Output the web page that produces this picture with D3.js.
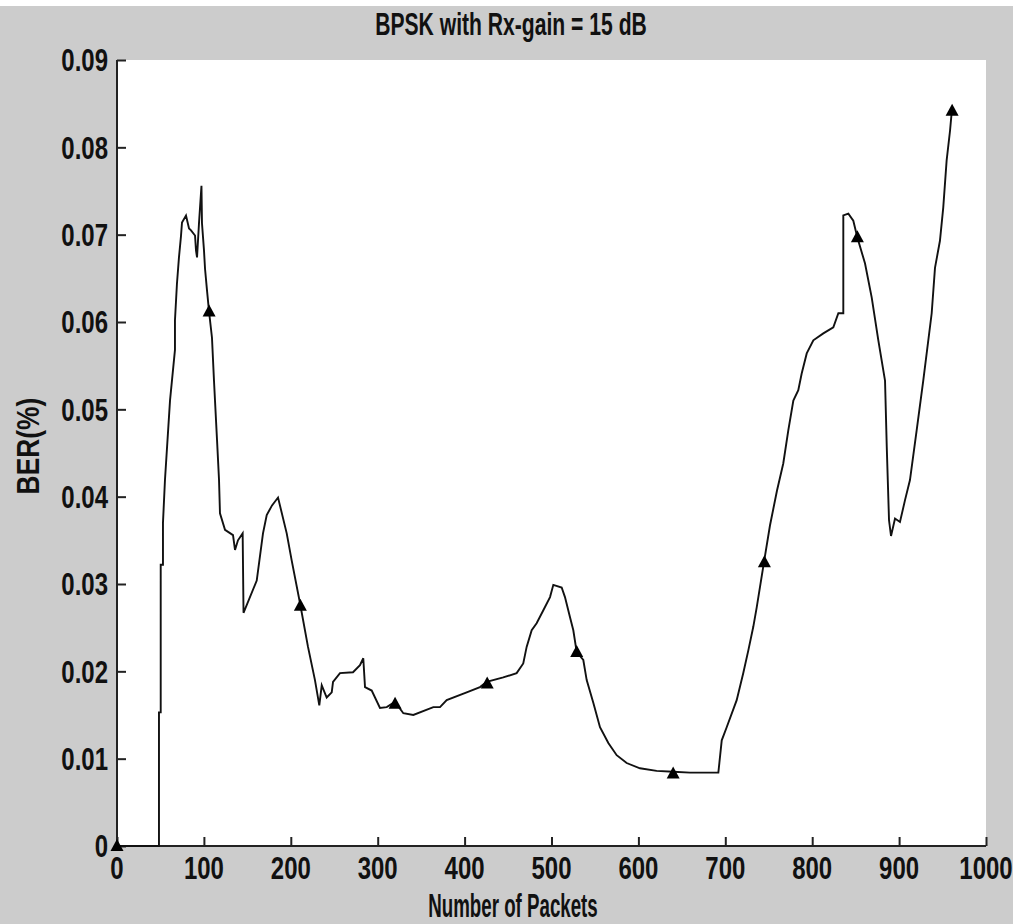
<!DOCTYPE html>
<html>
<head>
<meta charset="utf-8">
<script src="https://cdn.jsdelivr.net/npm/d3@7"></script>
<style>
  body { margin: 0; background: #fff; }
  svg { display: block; }
  text { font-family: "Liberation Sans", Arial, sans-serif; font-weight: bold; fill: #111; }
</style>
</head>
<body>
<svg id="chart"></svg>
<script>
// BPSK BER trace
let packets = [0, 48.3, 48.3, 50.3, 50.3, 52.9, 52.9, 55.2, 61, 66.7, 66.7, 69, 71.3, 73.6, 74.8, 79.4, 82.9, 85.2, 89.8, 90.9,
  92.1, 94.4, 97.2, 97.8, 100.1, 101.3, 103.6, 105.9, 109.3, 111.6, 115.1, 117.4, 118.5, 124.3, 133.5, 135.8, 139.2, 144.6, 145.6, 160.8,
  168, 172.3, 178.4, 185.3, 195.3, 201, 210.6, 219.8, 227.8, 232.8, 235.6, 241.3, 247.1, 248.6, 256.6, 271.6, 279.6, 283.4, 285.4, 293.1,
  302.6, 310.4, 319.9, 329.5, 341, 364, 371.7, 379.4, 402.4, 417.7, 425.4, 444.5, 459.9, 467.5, 471.4, 477.2, 482.9, 490.6, 498.3, 502.1,
  511.7, 515.5, 521.3, 525.1, 529, 536.6, 540.5, 548.1, 555.8, 565.4, 575, 586.5, 601.8, 621, 640.2, 659.4, 692, 695.9, 701.6, 713.1,
  720.7, 726.5, 732.2, 736.1, 744.5, 751.4, 759.5, 766.7, 772.5, 778.3, 784, 787.9, 793.7, 801.3, 812.8, 824.3, 830.1, 835.8, 835.8, 841.6,
  847.3, 851.9, 860.8, 868.5, 876.1, 883.8, 885.8, 888.4, 890.7, 895.3, 901, 906.8, 912.5, 920.2, 927.8, 937.5, 941.3, 947, 950.8, 954.7,
  958.6, 960.5]
let ber = [0, 0, 0.0153, 0.0153, 0.0322, 0.0322, 0.0370, 0.0419, 0.0510, 0.0568, 0.0602, 0.0644, 0.0674, 0.0698, 0.0714, 0.0722, 0.0707, 0.0705, 0.0699, 0.0682,
  0.0674, 0.0714, 0.0756, 0.0713, 0.0682, 0.0661, 0.0636, 0.0612, 0.0582, 0.0533, 0.0465, 0.0419, 0.0381, 0.0362, 0.0356, 0.0339, 0.0350, 0.0358, 0.0267, 0.0304,
  0.0358, 0.0379, 0.0390, 0.0399, 0.0358, 0.0327, 0.0278, 0.0228, 0.0190, 0.0161, 0.0184, 0.0170, 0.0176, 0.0188, 0.0198, 0.0199, 0.0207, 0.0215, 0.0182, 0.0178,
  0.0158, 0.0159, 0.0165, 0.0152, 0.0150, 0.0159, 0.0159, 0.0167, 0.0176, 0.0182, 0.0188, 0.0193, 0.0198, 0.0209, 0.0228, 0.0247, 0.0255, 0.0270, 0.0285, 0.0299,
  0.0296, 0.0285, 0.0262, 0.0247, 0.0222, 0.0213, 0.0190, 0.0164, 0.0136, 0.0118, 0.0104, 0.0095, 0.0089, 0.0086, 0.0085, 0.0084, 0.0084, 0.0121, 0.0136, 0.0167,
  0.0198, 0.0224, 0.0251, 0.0273, 0.0325, 0.0367, 0.0407, 0.0438, 0.0476, 0.0510, 0.0522, 0.0541, 0.0564, 0.0579, 0.0587, 0.0594, 0.0610, 0.0610, 0.0722, 0.0724,
  0.0716, 0.0697, 0.0667, 0.0628, 0.0579, 0.0533, 0.0457, 0.0373, 0.0355, 0.0375, 0.0371, 0.0396, 0.0419, 0.0476, 0.0533, 0.0610, 0.0662, 0.0693, 0.0731, 0.0785,
  0.0819, 0.0840]

// triangle markers
let markerPackets = [0, 106, 211, 320, 426, 529, 640, 745, 852, 961]
let markerBer = [0, 0.0612, 0.0275, 0.0163, 0.0186, 0.0222, 0.0083, 0.0325, 0.0697, 0.0842]

let xTicks = [0, 100, 200, 300, 400, 500, 600, 700, 800, 900, 1000]
let yTicks = [0, 0.01, 0.02, 0.03, 0.04, 0.05, 0.06, 0.07, 0.08, 0.09]

let titleText = "BPSK with Rx-gain = 15 dB"
let xLabel = "Number of Packets"
let yLabel = "BER(%)"

let W = 1013, H = 924
let svg = d3.select('#chart')
    .attr('width', W)
    .attr('height', H)

// figure background (white strip on top, then matlab grey)
svg.append('rect').attr('x', 0).attr('y', 0).attr('width', W).attr('height', H).attr('fill', '#fff')
svg.append('rect').attr('x', 0).attr('y', 6).attr('width', W).attr('height', H - 6).attr('fill', '#cccccc')

let plotL = 117, plotR = 986, plotT = 60, plotB = 846

let x = d3.scaleLinear().domain([0, 1000]).range([plotL, plotR])
let y = d3.scaleLinear().domain([0, 0.09]).range([plotB, plotT])

svg.append('rect')
    .attr('x', plotL).attr('y', plotT)
    .attr('width', plotR - plotL).attr('height', plotB - plotT)
    .attr('fill', '#fff')

// stretched bold text, like the screenshot
function label(px, py, str, size, sx, sy, anchor, rot) {
    let g = svg.append('g')
        .attr('transform', 'translate(' + px + ',' + py + ')' + (rot ? ' rotate(' + rot + ')' : '') + ' scale(' + sx + ',' + sy + ')')
    g.append('text')
        .attr('text-anchor', anchor)
        .style('font-size', size + 'px')
        .text(str)
    return g
}

// axes
let xAxis = d3.axisBottom(x).tickValues(xTicks).tickSize(-9).tickFormat('')
let yAxis = d3.axisLeft(y).tickValues(yTicks).tickSize(-9).tickFormat('')

let gx = svg.append('g').attr('transform', 'translate(0,' + plotB + ')').call(xAxis)
let gy = svg.append('g').attr('transform', 'translate(' + plotL + ',0)').call(yAxis)

svg.selectAll('.domain').attr('stroke', '#222').attr('stroke-width', 2)
svg.selectAll('.tick line').attr('stroke', '#222').attr('stroke-width', 2)
gx.select('.domain').attr('d', 'M' + plotL + ',0H' + plotR)
gy.select('.domain').attr('d', 'M0,' + plotB + 'V' + plotT)

let tickSize = 24, tickSy = 1.33
let capHalf = 0.716 * tickSize / 2

xTicks.forEach(function(t){
    label(x(t), 879, String(t), tickSize, 1, tickSy, 'middle')
})
yTicks.forEach(function(t){
    label(108, y(t), String(t), tickSize, 1, tickSy, 'end')
        .select('text').attr('y', capHalf)
})

// the trace
let pts = packets.map(function(p, i){ return [p, ber[i]] })
let line = d3.line()
    .x(function(d){ return x(d[0]) })
    .y(function(d){ return y(d[1]) })

svg.append('path')
    .datum(pts)
    .attr('d', line)
    .attr('fill', 'none')
    .attr('stroke', '#111')
    .attr('stroke-width', 1.9)
    .attr('stroke-linejoin', 'miter')

let markers = markerPackets.map(function(p, i){ return {p: p, v: markerBer[i]} })
svg.selectAll('path.marker')
    .data(markers)
    .enter()
    .append('path')
    .attr('class', 'marker')
    .attr('d', 'M0,-7L6.5,5L-6.5,5Z')
    .attr('transform', function(d){ return 'translate(' + x(d.p) + ',' + y(d.v) + ')' })
    .attr('fill', '#000')

// titles
label(511, 35, titleText, 24, 0.88, 1.28, 'middle')
label(513, 917, xLabel, 24, 0.78, 1.4, 'middle')
label(39, 446, yLabel, 24, 1.1, 1.28, 'middle', -90)
</script>
</body>
</html>
